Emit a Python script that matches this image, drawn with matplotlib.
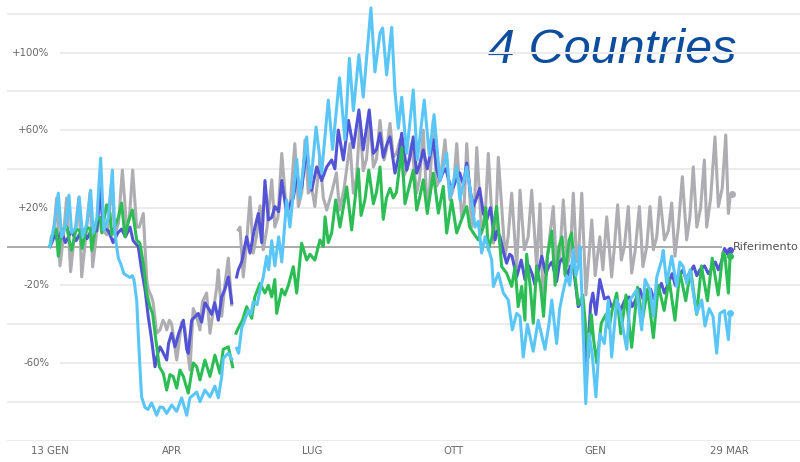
import numpy as np
import matplotlib
matplotlib.use('Agg')
import matplotlib.pyplot as plt

nan = float('nan')

# ---- axis text -----------------------------------------------------------
tick_days = [0, 79, 170, 262, 354, 441]          # days since 13 Jan 2020
tick_labels = ['13 GEN', 'APR', 'LUG', 'OTT', 'GEN', '29 MAR']
y_ticks = [100, 60, 20, -20, -60]
y_labels = ['+100%', '+60%', '+20%', '-20%', '-60%']
title = '4 Countries'
ref_label = 'Riferimento'

# ---- series (day offset, % change vs reference) ---------------------------
grey_days = [0, 2, 4.3, 6.5, 8.5, 10.8, 13.4, 15.5, 18.8, 20.6, 23, 26, 27.7, 30, 32.5, 34.6, 37, 40, 42,
             44.5, 47, 49.8, 51.5, 53.7, 56.3, 58, 60.6, 62.8, 63.8, 66, 67, 69.3, 71.4, 73.4, 74.7, 75.8,
             77.5, 79, 82.3, 85.5, 87.5, 90.9, 93, 95.3, 97.4, 99, 101.7, 103.9, 105.5, 108.2, 109.3, 111.5,
             113.5, 115.8, 118, 119.8, 122.3, 123.4, 125.5, 127.5, 129.9, 132, 134, 136.4, 138.5, 141, 144,
             146, 148, 150.5, 153.7, 156, 159, 161.3, 163.5, 165.6, 167.7, 170, 172, 175.3, 177.5, 179.7,
             183, 186, 188, 191, 194.8, 197, 199, 201.3, 203.4, 205.5, 207.8, 210, 212, 214.3, 216.9, 218.5,
             220.8, 222.9, 225, 227.3, 229.4, 232, 234.8, 238.1, 240, 242.4, 244.6, 246.5, 248.9, 251, 253.5,
             256.5, 259.7, 262, 264.1, 267.3, 269, 270.6, 273.8, 275.5, 277.1, 280.3, 282.5, 284.6, 287.9,
             289.5, 291.1, 295.5, 297.5, 299.8, 303, 304, 305.2, 308, 310.5, 312.8, 316, 318.2, 320.3, 323,
             326.8, 329, 331, 333.3, 336, 338, 339.8, 342, 343.5, 345.3, 348, 350, 351.8, 354, 357, 359,
             361.5, 364.7, 366.5, 368.6, 371, 373, 375.5, 377.7, 380, 382.7, 385, 387.5, 389.6, 391.8, 394,
             396.1, 399, 401.5, 403.7, 405.8, 408, 410.6, 413.4, 415.5, 417.7, 420, 422.5, 424.9, 426.4, 429,
             431.8, 434, 436.5, 438.8, 440.5, 441.6, 442.8]
grey_vals = [0, 3, 25, -10, 3, 25, -13, 3, 25.5, -15.7, 3, 28, -10.5, 5, 35, 8, 6, 33, 6,
             12, 39.4, 10, 14, 39.4, 10, 10, 17, -17, -22, -26, -29, -44.7, -43, -38, -40, -43,
             -38, -40, -58.5, -39, -42, -63.7, -32, -36, -43, -28.5, -24, -44.7, -36, -21.5, -12, -36,
             -20, -6, -30, nan, 8.6, 10, -15.7, 0, 25.5, -3.4, 5, 21, -1.7, 10, 34.4,
             10, 15, 48, 17, 22, 53, 20.6, 28, 55, 27.5, 30, 20.6, 46, 25, 18.8,
             28, 38, 18.8, 30, 53, 27.5, 35, 65, 39, 45, 65, 41, 45, 65, 44.6, 50,
             63.5, 46, 48, 55, 36, 40, 53, 27.5, 35, 60, 24, 30, 65, 31, 35,
             55, 24, 30, 53, 15.3, 22, 53, 10, 18, 51, 7, 15, 48, 1.7,
             10, 46, -5, 5, 27.5, -10.4, 5, 29, -1.7, 5, 29, -10.4, 22, -30, -5,
             20.6, -12, -5, 24, -10, -2, 27.5, -8, 0, 27.5, -25, -5, 13.7, -15, 5, -12,
             15.3, -15.7, 0, 21.5, -7, 0, 20.6, -13.7, -2, 20.6, -10.4, 0, 20.6, -1.7, 5,
             25.5, 3.4, 8, 22.4, -5, 10, 36, 3.4, 15, 41, 10, 20, 44.6, 10, 25,
             56.5, 20.6, 30, 57.5, 17, 25.5, 27]

purple_days = [0, 3, 5, 7.5, 10, 14, 17, 21, 24, 28, 30.5, 32.5, 34.6, 38, 41, 44, 46.5, 49, 52, 54, 57.3,
               59.5, 61.7, 63.8, 66, 68.2, 70, 71.4, 73, 75.8, 77, 79, 81.2, 83.5, 86.6, 88.8, 89.8, 92,
               96.3, 98.5, 100.6, 103, 105, 107, 109.3, 111.5, 113.6, 115.8, 118, 119.8, 121.2, 122.3,
               124.5, 127.7, 129.9, 132.5, 135.3, 137.5, 139.6, 141.8, 144, 146.1, 148.5, 150.5, 153.7, 156,
               158, 160.2, 163.4, 166.7, 169.9, 173.2, 176.4, 179.7, 182.9, 185, 187.2, 190.5, 193.8, 197,
               200.6, 203.4, 207.3, 209.9, 212, 214.3, 216.4, 218.5, 220.8, 224, 226, 228.4, 231.6, 233.5,
               235.9, 238.1, 240, 242.4, 245, 248.9, 251, 253.2, 255, 257, 259.7, 261.9, 264, 266, 268.5,
               270.6, 273, 274.9, 277, 279, 281.4, 283.6, 286, 289, 290.5, 292.2, 294.5, 296.5, 298.5, 300,
               303, 306, 308.4, 311, 313, 315, 319.3, 322, 324, 326, 329, 331, 333, 336, 338, 340, 341.5,
               343, 346, 348.5, 351, 352.5, 354.5, 357, 360, 362.5, 364.5, 366, 368, 370.5, 373, 376, 378,
               380, 383, 385.5, 387.5, 390, 392, 394, 397, 399, 401, 404, 406, 408, 411, 413, 415, 418, 420,
               422, 425, 427.5, 430, 432, 434, 436, 438, 440, 441.6]
purple_vals = [0, 6, 3, 8, 2, 8, 3, 9, 4, 10, 8, 30, 10, 8, 2, 7, 9, 5, 10, 3, 0,
               -12, -22, -36, -48, -62, -55, -51.7, -54, -58.5, -50, -44.7, -51.7, -45, -38, -53, -55, -38,
               -34.5, -39, -29, -32, -35, -29, -38, -26, -22, -15.7, -29, nan, -15.7, -12,
               -8, 5, -3.4, 8, 17, 2, 34, 13.7, 15, 20.6, 18, 34, 17, 22,
               25, 36, 30, 50, 29, 41, 34, 41, 44.6, 40, 60, 44.6, 65, 51,
               70.4, 49.8, 70.4, 48, 50, 58.4, 46, 52, 56.5, 37.8, 45, 58.4, 39.4, 45,
               56.5, 37.8, 42, 49.8, 40, 55, 40, 34, 38, 40, 32, 30.7, 35, 38, 32,
               43, 28, 20.6, 25, 30, 17, 13.7, 20, 3.4, 8, 5, -3, -8.6, -4, -5,
               -15.7, -7, -17, -10, -14, -20, -5, -14, -10, -8, -18, -8, -6, -15, -10, -12, -21,
               -31, -28, -66, -30, -24, -35, -17, -27, -26, -31, -30, -28, -33, -28, -26, -31,
               -28, -22, -28, -25, -22, -27, -24, -19, -24, -20, -14, -20, -16, -12, -17, -14, -10, -15,
               -12, -10, -14, -11, -8, -12, -8, -1, -4, -2]

green_days = [0, 1, 4, 5.4, 7.6, 11, 12.5, 14, 17, 19.5, 20.8, 24, 26, 27.2, 30.3, 32.5, 33.6, 36.8, 39, 40,
              44.4, 46.5, 48.7, 50.9, 53.5, 56.3, 58.4, 60.6, 62.8, 64.9, 66.6, 68.2, 71, 73.6, 75.8, 77.9,
              80, 82.3, 84.4, 86.6, 89.8, 93, 95.3, 97.4, 100.6, 103.9, 107.1, 110.4, 112.5, 115.8, 118.6,
              119.8, 120.8, 122.3, 125, 127.7, 131, 133, 136.4, 139.6, 141.8, 144, 146, 147.2, 150.5, 152.5,
              154.8, 158, 160.2, 163.4, 166.7, 168.8, 172, 175.3, 177.5, 178.6, 180.7, 182.9, 185.5, 188.3,
              192.7, 195.9, 200.2, 202, 204.5, 207, 210, 212, 214.3, 216.4, 218.5, 220.8, 222.9, 225, 228.4,
              230.5, 233, 235.9, 238.1, 240, 242.4, 245, 248.9, 252.2, 255.4, 257.6, 260.8, 264.1, 267.3,
              270.6, 272.5, 274.9, 278.1, 281.4, 283, 284.6, 287, 290, 293.3, 296.5, 299.8, 302, 304, 306.3,
              308.4, 309.5, 312, 313.8, 316, 318.5, 320.5, 323, 325.8, 328, 330.5, 332.5, 334.5, 337, 338.7,
              341, 343, 346, 349.6, 351.5, 353, 355, 358, 361, 363, 365, 368, 370.6, 374, 377.7, 381.5,
              384.7, 388, 391.8, 395, 398.8, 402, 405.8, 409, 412.8, 416, 419.9, 423, 426.9, 430, 433.9,
              437, 438.3, 440.5, 441.6]
green_vals = [0, 5, 9, -5, 8.5, 10, 3, -2, 9, 8, -1, 10, 9, -2, 13.7, 15, 7, 21.5, 17, 6,
              15, 22.4, 5, 13, 18.8, 3.4, 1.7, -8.6, -24, -31, -34.5, -44.7, -62, -65.4, -74, -66,
              -67, -73, -63.7, -67, -75.6, -60, -62, -68.8, -58.5, -67, -56, -65.4, -53, -51.7, -62,
              nan, -44.7, -42, -38, -31, -37, -26, -19, -24, -20, -26, -17, -34.5, -22, -25,
              -20, -10.4, -24, 1.7, -7, -4, -7, 3.4, 0, 15.3, 2, 7, 24, 10,
              30.7, 8.5, 40, 16, 24, 39.4, 22, 28, 41, 14, 25, 30, 25, 28, 51,
              22, 30, 39.4, 18.8, 25, 34.4, 17, 37.8, 17.2, 31, 6.9, 24, 7, 14,
              20.6, 10, 7, 3.4, 10, 20, -1.7, 5, 20.6, -10.4, -13.7, -20.6, -10.4, -31, -20.6,
              -38, -4, -22, -39.5, -10, -20, -36, -5, 8, -20, 0, 5, -15, 3, 7,
              -15.7, -30, -25, -57, -35, -48, -60, -39.5, -35, -42, -33, -24, -45, -25, -52, -21,
              -38, -22, -47, -20, -33, -17, -38, -13, -28, -12, -35, -10, -28, -6, -25,
              -3, -5, -24, -5]

lblue_days = [0, 3, 5.4, 7.6, 10, 12.3, 14.1, 17, 19, 21.2, 24, 26.4, 28.1, 30.5, 32.9, 35, 38, 40.5, 42.2,
              43.3, 44.4, 46, 48, 50, 52, 53.5, 54.5, 56.3, 57.3, 58.4, 59.5, 61.7, 63.6, 66, 69.3, 71.4,
              73.4, 75.8, 79, 82.3, 85.5, 88.8, 90.9, 95.3, 97.4, 100.6, 103.9, 107.1, 109.3, 111.5, 112.5,
              115.8, 118, 119.8, 121.2, 122.5, 124.5, 128.8, 130.5, 132, 134.5, 136.4, 138.5, 140.7, 142,
              144, 146, 148.5, 150.5, 153.7, 155.8, 160.2, 162.3, 166.7, 169, 172.8, 176.4, 180.7, 183.5,
              188, 191.5, 194.4, 197, 200.6, 203.4, 208.4, 211, 214.3, 216, 218.6, 221.9, 224, 226.2,
              228.4, 231.6, 235.9, 238.5, 243, 246.3, 249.4, 253.2, 257.6, 259.7, 264.1, 266.2, 270.6,
              273.8, 276, 278.1, 280.3, 282.5, 286.8, 287.9, 291.1, 294.4, 297.6, 300.2, 303, 305.2, 307.3,
              310, 313.8, 317, 321.4, 324, 325.8, 329, 331, 333, 335.5, 337.5, 339.8, 341.5, 343, 344.2,
              347.9, 350, 352, 354.5, 357, 360, 362.5, 364.7, 368, 370, 374.5, 376.6, 381, 384.2, 386.4,
              389.6, 391.8, 394, 397.2, 398.2, 400.4, 403.7, 406.9, 409, 411.2, 413.4, 415.6, 417.7, 419.9,
              423.2, 425.3, 428, 430.5, 432.9, 435, 438, 440.5, 441.6]
lblue_vals = [0, 12, 27.5, 5, 10, 26.5, 7, 10, 25.5, 5, 12, 29, 7, 15, 45.6, 8.5, 15, 39.4, 7,
              0, -6, -9, -14, -15, -16, -15, -17, -27.6, -44.6, -62, -77.5, -83, -84, -80.6, -87, -82.7,
              -83, -86, -81.7, -85, -78, -87, -78, -75, -80, -74, -77.5, -72, -78, -67, -57.6,
              -55, -58, nan, -52.5, -55, -42, -33, -35, -28.5, -30, -22.4, -15.7, -5, -12,
              3, -10, 5, -8, 24, 10, 45, 25, 56.5, 30, 61.6, 37.8, 75.5, 50,
              87, 55, 97, 70, 98.8, 77, 123, 90, 110, 112.6, 88.4, 113, 80, 61,
              77, 48, 80.7, 44.6, 75.5, 47, 68, 34, 48, 25.5, 41, 24, 41,
              24, 10, 13, -3.4, 5, -6.9, -20.6, -13.8, -24, -27.6, -43, -34.5, -36, -57,
              -40, -54, -38, -53, -40, -27.6, -50, -32, -24, -15, -20, -1.7, -15, -10, 0,
              -81, -45, -55, -77.5, -45, -50, -27.6, -57, -27.6, -32.7, -53, -27.6, -22.4, -43, -17,
              -22.4, -36, -15.7, -7, -2, -19, -5, -20.6, -8, -10.4, -19, -12, -24, -34.5,
              -27.6, -41, -32, -36, -55, -34.5, -33, -48, -34.5]

series = [
    (grey_days, grey_vals, '#adadb2'),
    (purple_days, purple_vals, '#5353d6'),
    (green_days, green_vals, '#2dbd55'),
    (lblue_days, lblue_vals, '#5ac6f7'),
]

# ---- figure --------------------------------------------------------------
fig = plt.figure(figsize=(8, 4.62), dpi=100)
fig.patch.set_facecolor('white')
x0, x1 = -27.9, 487.0
ax = fig.add_axes([7 / 800, 21.5 / 462, 793 / 800, 436.5 / 462])
ax.set_xlim(x0, x1)
ax.set_ylim(-100, 125)
for s in ax.spines.values():
    s.set_visible(False)
ax.set_yticks([])
ax.set_xticks(tick_days)
ax.set_xticklabels(tick_labels)
ax.tick_params(axis='x', length=0, pad=4, labelsize=7.3, labelcolor='#666666')

for g in range(-100, 121, 20):
    if g == 0:
        continue
    xmin = 6.5 if g in y_ticks else x0
    ax.hlines(g, xmin, x1, color='#ececec', lw=1.5, zorder=1)
for v, lab in zip(y_ticks, y_labels):
    ax.text(-0.5, v, lab, ha='right', va='center', fontsize=7.3, color='#666666')

ax.hlines(0, x0, 436.5, color='#9c9c9c', lw=1.2, zorder=2)
ax.text(443.5, 0, ref_label, ha='left', va='center', fontsize=8.1, color='#505050', zorder=2)

ax.text(488 / 800, 1 - 63 / 462, title, transform=fig.transFigure, fontsize=35,
        style='italic', family=['Liberation Sans', 'DejaVu Sans'], color='#0d4d9e',
        ha='left', va='baseline', zorder=0.5)

for i, (d, v, c) in enumerate(series):
    ax.plot(d, v, color=c, lw=2.2, zorder=3 + i, clip_on=False)
    ax.plot(d[-1], v[-1], 'o', ms=4, color=c, zorder=3 + i, clip_on=False)

fig.savefig('out.png', dpi=100, facecolor='white')
